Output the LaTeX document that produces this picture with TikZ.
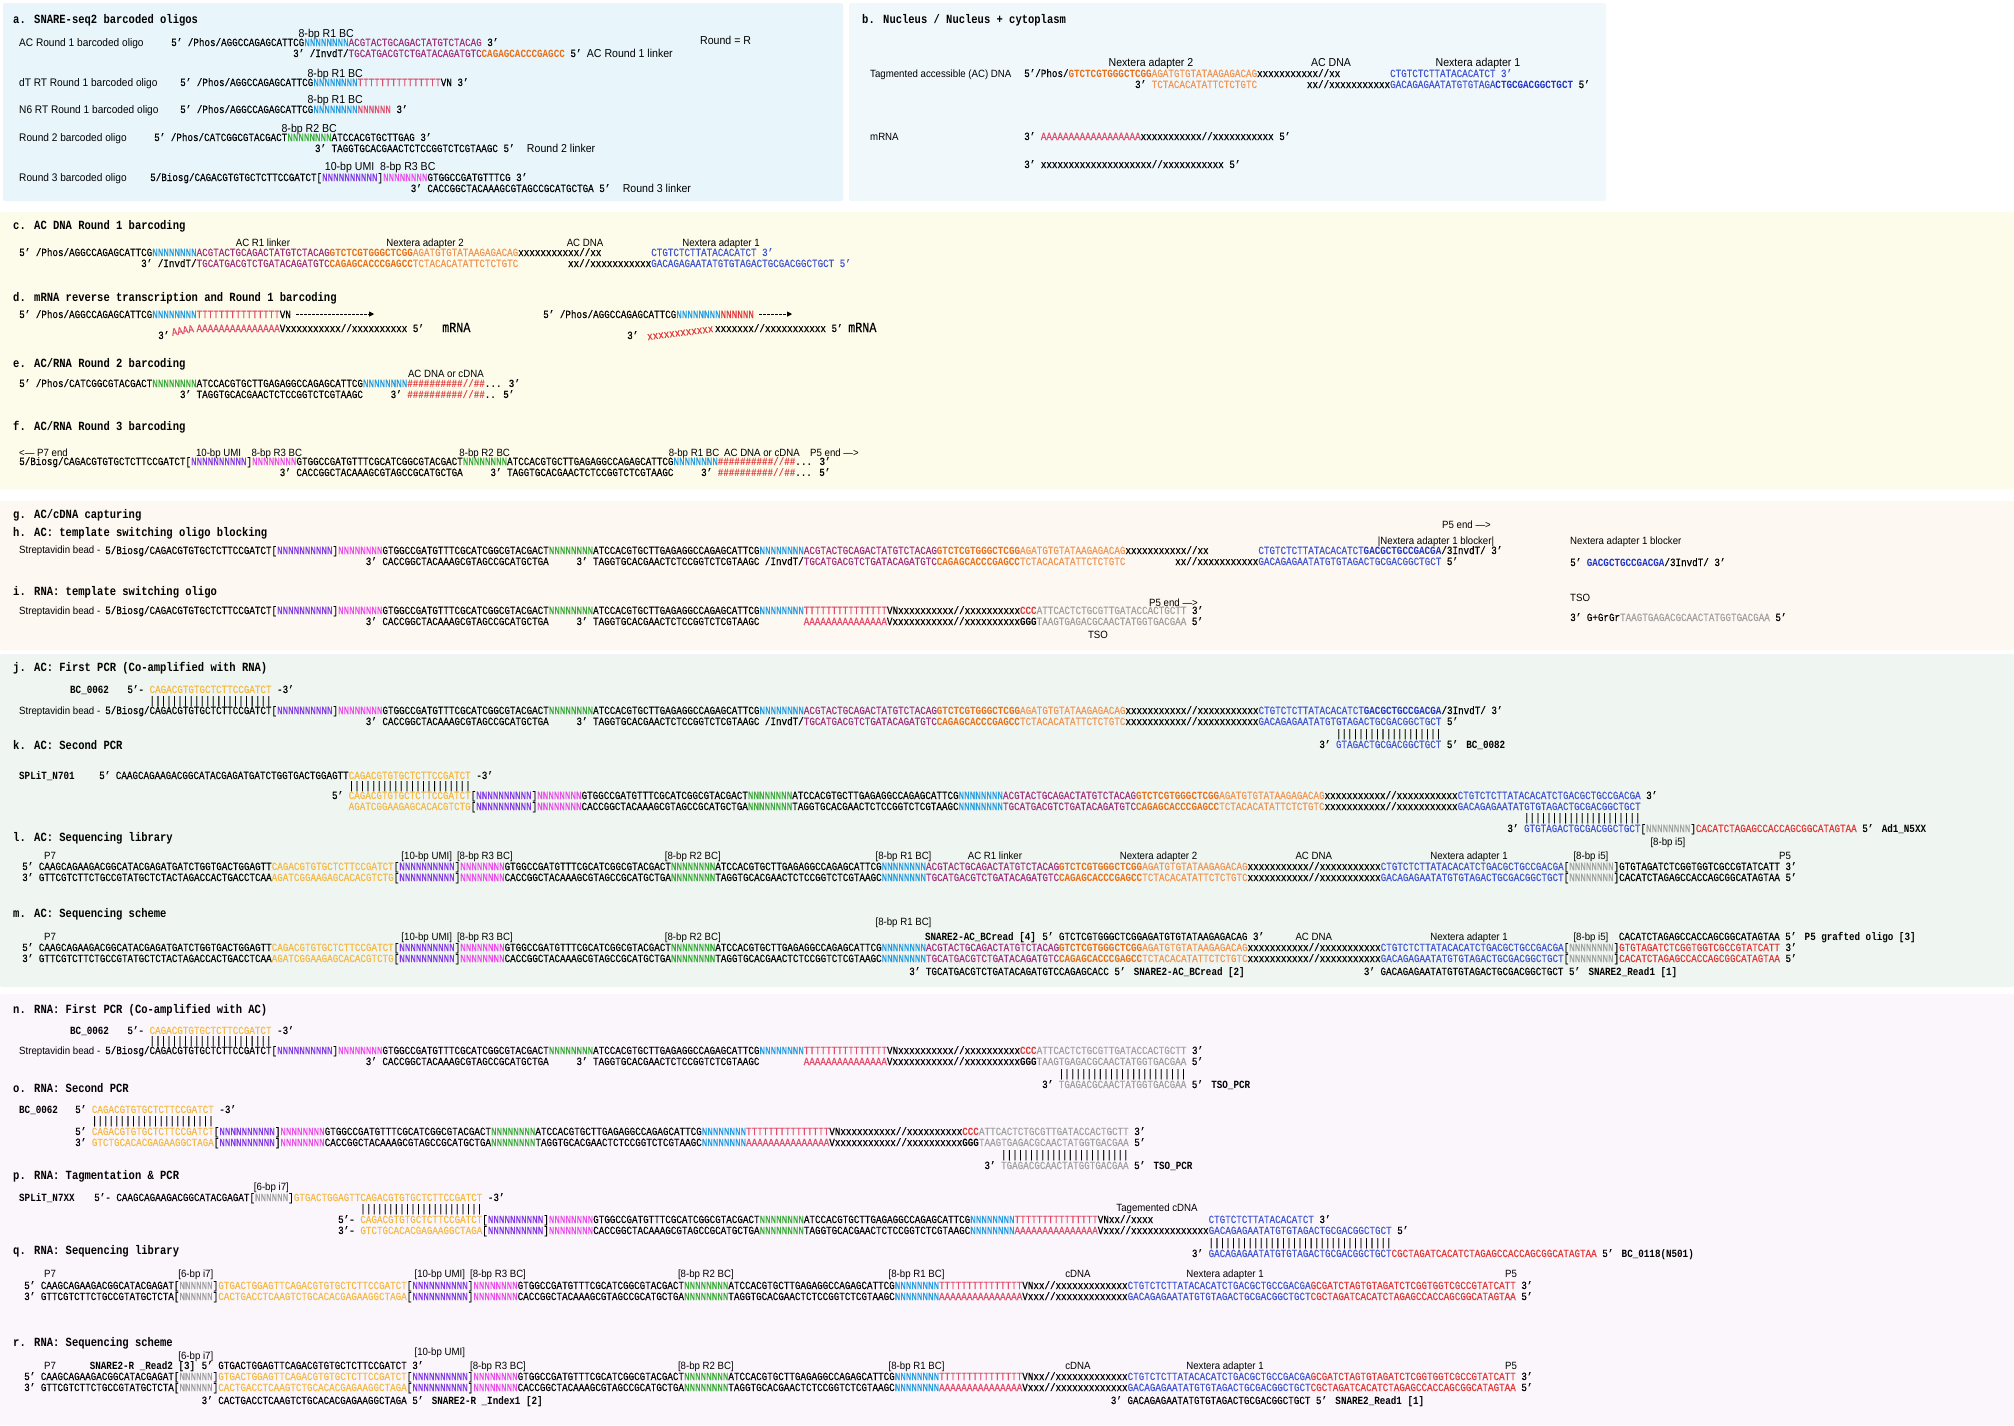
\documentclass[tikz,border=0pt]{standalone}
\usepackage{fontspec}
\setmainfont{Liberation Sans}
\newfontfamily\seqfont[FakeStretch=0.84, UprightFeatures={FakeBold=0.25}]{Liberation Mono}
\newfontfamily\lblfont[FakeStretch=0.92]{Liberation Sans}
\usetikzlibrary{arrows.meta, positioning}

\definecolor{panelA}{RGB}{232,246,251}
\definecolor{panelB}{RGB}{241,248,251}
\definecolor{panelC}{RGB}{253,251,234}
\definecolor{panelG}{RGB}{253,248,241}
\definecolor{panelJ}{RGB}{239,245,240}
\definecolor{panelN}{RGB}{251,246,251}
\definecolor{roneC}{RGB}{35,155,225}
\definecolor{rtwoC}{RGB}{55,170,55}
\definecolor{rthreeC}{RGB}{235,75,235}
\definecolor{umiC}{RGB}{130,55,230}
\definecolor{lnkC}{RGB}{160,50,125}
\definecolor{nxtwoC}{RGB}{240,150,85}
\definecolor{nxtwoD}{RGB}{232,110,25}
\definecolor{nxoneC}{RGB}{65,85,210}
\definecolor{nxoneD}{RGB}{30,50,200}
\definecolor{polyC}{RGB}{225,75,105}
\definecolor{goldC}{RGB}{245,185,70}
\definecolor{gryC}{RGB}{160,160,160}
\definecolor{redC}{RGB}{225,55,55}

% colour pieces of the oligos
\newcommand{\bcone}[1]{\textcolor{roneC}{#1}}
\newcommand{\bctwo}[1]{\textcolor{rtwoC}{#1}}
\newcommand{\bcthree}[1]{\textcolor{rthreeC}{#1}}
\newcommand{\umi}[1]{\textcolor{umiC}{#1}}
\newcommand{\lnk}[1]{\textcolor{lnkC}{#1}}
\newcommand{\nxtwo}[1]{\textcolor{nxtwoC}{#1}}
\newcommand{\nxtwoB}[1]{\textcolor{nxtwoD}{\bfseries #1}}
\newcommand{\nxone}[1]{\textcolor{nxoneC}{#1}}
\newcommand{\nxoneB}[1]{\textcolor{nxoneD}{\bfseries #1}}
\newcommand{\poly}[1]{\textcolor{polyC}{#1}}
\newcommand{\gold}[1]{\textcolor{goldC}{#1}}
\newcommand{\gry}[1]{\textcolor{gryC}{#1}}
\newcommand{\rd}[1]{\textcolor{redC}{#1}}
\newcommand{\rdB}[1]{\textcolor{redC}{\bfseries #1}}
\newcommand{\blk}[1]{#1}

% repeated stretches
\newcommand{\hsh}{\rdB{\#\#\#\#\#\#\#\#\#\#//\#\#}}
\newcommand{\xxgap}{xxxxxxxxxxx//xxxxxxxxxxx}
\newcommand{\coreTop}{[\umi{NNNNNNNNNN}]\bcthree{NNNNNNNN}GTGGCCGATGTTTCGCATCGGCGTACGACT\bctwo{NNNNNNNN}ATCCACGTGCTTGAGAGGCCAGAGCATTCG\bcone{NNNNNNNN}}
\newcommand{\coreBot}{[\umi{NNNNNNNNNN}]\bcthree{NNNNNNNN}CACCGGCTACAAAGCGTAGCCGCATGCTGA\bctwo{NNNNNNNN}TAGGTGCACGAACTCTCCGGTCTCGTAAGC\bcone{NNNNNNNN}}
\newcommand{\acTop}{\lnk{ACGTACTGCAGACTATGTCTACAG}\nxtwoB{GTCTCGTGGGCTCGG}\nxtwo{AGATGTGTATAAGAGACAG}}
\newcommand{\acBot}{\lnk{TGCATGACGTCTGATACAGATGTC}\nxtwoB{CAGAGCACCCGAGCC}\nxtwo{TCTACACATATTCTCTGTC}}
\newcommand{\nxOneTop}{\nxone{CTGTCTCTTATACACATCTGACGCTGCCGACGA}}
\newcommand{\nxOneBot}{\nxone{GACAGAGAATATGTGTAGACTGCGACGGCTGCT}}
\newcommand{\beadStrand}{5/Biosg/CAGACGTGTGCTCTTCCGATCT\coreTop}
\newcommand{\acLibTop}[1]{5’ CAAGCAGAAGACGGCATACGAGATGATCTGGTGACTGGAGTT\gold{CAGACGTGTGCTCTTCCGATCT}\coreTop\acTop\xxgap\nxOneTop{}[\gry{NNNNNNNN}]#1{GTGTAGATCTCGGTGGTCGCCGTATCATT} 3’}
\newcommand{\acLibBot}[1]{3’ GTTCGTCTTCTGCCGTATGCTCTACTAGACCACTGACCTCAA\gold{AGATCGGAAGAGCACACGTCTG}\coreBot\acBot\xxgap\nxOneBot{}[\gry{NNNNNNNN}]#1{CACATCTAGAGCCACCAGCGGCATAGTAA} 5’}
\newcommand{\rnaLibTop}{5’ CAAGCAGAAGACGGCATACGAGAT[\gry{NNNNNN}]\gold{GTGACTGGAGTTCAGACGTGTGCTCTTCCGATCT}\coreTop\poly{TTTTTTTTTTTTTTT}VNxx//xxxxxxxxxxxxx\nxOneTop\rd{GCGATCTAGTGTAGATCTCGGTGGTCGCCGTATCATT} 3’}
\newcommand{\rnaLibBot}{3’ GTTCGTCTTCTGCCGTATGCTCTA[\gry{NNNNNN}]\gold{CACTGACCTCAAGTCTGCACACGAGAAGGCTAGA}\coreBot\poly{AAAAAAAAAAAAAAA}Vxxx//xxxxxxxxxxxxx\nxOneBot\rd{CGCTAGATCACATCTAGAGCCACCAGCGGCATAGTAA} 5’}
\def\cw{5.544}

\begin{document}
\begin{tikzpicture}[x=1pt, y=-1pt,
    sq/.style={font=\seqfont\fontsize{11}{12}\selectfont, inner sep=0pt, anchor=base west},
    ttl/.style={font=\seqfont\bfseries\fontsize{12.5}{14}\selectfont, inner sep=0pt, anchor=base west},
    nm/.style={font=\seqfont\bfseries\fontsize{11}{12}\selectfont, inner sep=0pt, anchor=base west},
    lbl/.style={font=\lblfont\fontsize{10.5}{12}\selectfont, inner sep=0pt, anchor=base},
    lblw/.style={lbl, anchor=base west},
    lbla/.style={lbl, font=\lblfont\fontsize{11.5}{13}\selectfont},
    lblaw/.style={lbla, anchor=base west},
    nmw/.style={lblw, font=\lblfont\fontsize{11}{13}\selectfont},
    mrna/.style={font=\seqfont\fontsize{14}{16}\selectfont, inner sep=0pt, anchor=base west},
    panel/.style={fill=#1, draw=none, rounded corners=2pt},
    rtarrow/.style={dash pattern=on 2.5pt off 1.5pt, line width=0.9pt, -{Triangle[length=5pt,width=5pt]}}
]
\useasboundingbox (0,0) rectangle (2014,1425);

% --- panels ---
\fill[panel=panelA] (3,3) rectangle (843,201);
\fill[panel=panelB] (849,3) rectangle (1606,201);
\fill[panel=panelC] (0,212) rectangle (2014,489);
\fill[panel=panelG] (0,501) rectangle (2014,650);
\fill[panel=panelJ] (0,654) rectangle (2014,987);
\fill[panel=panelN] (0,994) rectangle (2014,1425);

% --- a. barcoded oligos ---
\node[ttl] (aT) at (13,23) {a. SNARE-seq2 barcoded oligos};
\node[nmw] (aL1) at (19,46) {AC Round 1 barcoded oligo};
\node[lbla] (aB1) at ({171+28*\cw},37) {8-bp R1 BC};
\node[sq] (a1t) at (171,46) {5’ /Phos/AGGCCAGAGCATTCG\bcone{NNNNNNNN}\lnk{ACGTACTGCAGACTATGTCTACAG} 3’};
\node[sq] (a1b) at ({171+22*\cw},57) {3’ /InvdT/\lnk{TGCATGACGTCTGATACAGATGTC}\nxtwoB{CAGAGCACCCGAGCC} 5’};
\node[lblaw] (aK1) at ([xshift=5pt]a1b.base east) {AC Round 1 linker};
\node[lblaw] (aR) at (700,44) {Round = R};

\node[nmw] (aL2) at (19,86) {dT RT Round 1 barcoded oligo};
\node[lbla] (aB2) at ({180+28*\cw},77) {8-bp R1 BC};
\node[sq] (a2t) at (180,86) {5’ /Phos/AGGCCAGAGCATTCG\bcone{NNNNNNNN}\poly{TTTTTTTTTTTTTTT}VN 3’};

\node[nmw] (aL3) at (19,113) {N6 RT Round 1 barcoded oligo};
\node[lbla] (aB3) at ({180+28*\cw},103) {8-bp R1 BC};
\node[sq] (a3t) at (180,113) {5’ /Phos/AGGCCAGAGCATTCG\bcone{NNNNNNNN}\poly{NNNNNN} 3’};

\node[nmw] (aL4) at (19,141) {Round 2 barcoded oligo};
\node[lbla] (aB4) at ({154+28*\cw},132) {8-bp R2 BC};
\node[sq] (a4t) at (154,141) {5’ /Phos/CATCGGCGTACGACT\bctwo{NNNNNNNN}ATCCACGTGCTTGAG 3’};
\node[sq] (a4b) at ({154+29*\cw},152) {3’ TAGGTGCACGAACTCTCCGGTCTCGTAAGC 5’};
\node[lblaw] (aK4) at ([xshift=12pt]a4b.base east) {Round 2 linker};

\node[nmw] (aL5) at (19,181) {Round 3 barcoded oligo};
\node[lbla] (aU5) at ({150+36*\cw},170) {10-bp UMI};
\node[lbla] (aB5) at ({150+46.5*\cw},170) {8-bp R3 BC};
\node[sq] (a5t) at (150,181) {5/Biosg/CAGACGTGTGCTCTTCCGATCT[\umi{NNNNNNNNNN}]\bcthree{NNNNNNNN}GTGGCCGATGTTTCG 3’};
\node[sq] (a5b) at ({150+47*\cw},192) {3’ CACCGGCTACAAAGCGTAGCCGCATGCTGA 5’};
\node[lblaw] (aK5) at ([xshift=12pt]a5b.base east) {Round 3 linker};

% --- b. nucleus ---
\node[ttl] (bT) at (862,23) {b. Nucleus / Nucleus + cytoplasm};
\node[lbla] (bN2) at (1151,66) {Nextera adapter 2};
\node[lbla] (bAC) at (1331,66) {AC DNA};
\node[lbla] (bN1) at (1478,66) {Nextera adapter 1};
\node[lblw] (bL1) at (870,77) {Tagmented accessible (AC) DNA};
\node[sq] (b1t) at (1024,77) {5’/Phos/\nxtwoB{GTCTCGTGGGCTCGG}\nxtwo{AGATGTGTATAAGAGACAG}xxxxxxxxxxx//xx};
\node[sq] (b1t2) at ({1024+66*\cw},77) {\nxone{CTGTCTCTTATACACATCT 3’}};
\node[sq] (b1b) at ({1024+20*\cw},88) {3’ \nxtwo{TCTACACATATTCTCTGTC}};
\node[sq] (b1b2) at ({1024+51*\cw},88) {xx//xxxxxxxxxxx\nxone{GACAGAGAATATGTGTAGA}\nxoneB{CTGCGACGGCTGCT} 5’};
\node[lblw] (bL2) at (870,140) {mRNA};
\node[sq] (b2) at (1024,140) {3’ \poly{AAAAAAAAAAAAAAAAAA}xxxxxxxxxxx//xxxxxxxxxxx 5’};
\node[sq] (b3) at (1024,168) {3’ xxxxxxxxxxxxxxxxxxxx//xxxxxxxxxxx 5’};

% --- c. AC DNA round 1 ---
\node[ttl] (cT) at (13,229) {c. AC DNA Round 1 barcoding};
\node[lbl] (cL1) at ({19+44*\cw},246) {AC R1 linker};
\node[lbl] (cN2) at (425,246) {Nextera adapter 2};
\node[lbl] (cAC) at (585,246) {AC DNA};
\node[lbl] (cN1) at (721,246) {Nextera adapter 1};
\node[sq] (c1t) at (19,256) {5’ /Phos/AGGCCAGAGCATTCG\bcone{NNNNNNNN}\acTop{}xxxxxxxxxxx//xx};
\node[sq] (c1t2) at ({19+114*\cw},256) {\nxone{CTGTCTCTTATACACATCT 3’}};
\node[sq] (c1b) at ({19+22*\cw},267) {3’ /InvdT/\acBot};
\node[sq] (c1b2) at ({19+99*\cw},267) {xx//xxxxxxxxxxx\nxone{GACAGAGAATATGTGTAGACTGCGACGGCTGCT 5’}};

% --- d. RT + round 1 ---
\node[ttl] (dT) at (13,301) {d. mRNA reverse transcription and Round 1 barcoding};
\node[sq] (d1t) at (19,318) {5’ /Phos/AGGCCAGAGCATTCG\bcone{NNNNNNNN}\poly{TTTTTTTTTTTTTTT}VN};
\coordinate (d1e) at ([xshift=83pt]d1t.east);
\draw[rtarrow] ([xshift=5pt]d1t.east) -- (d1e);
\node[sq] (d1b) at ({19+32*\cw},332) {\poly{AAAAAAAAAAAAAAA}Vxxxxxxxxxx//xxxxxxxxxx 5’};
\node[sq, anchor=base east, rotate=10] (d1a) at ([xshift=-2pt]d1b.base west) {\poly{AAAA}};
\node[sq] (d1p) at (158,339) {3’};
\node[mrna] (d1m) at (442,332) {mRNA};

\node[sq] (d2t) at (543,318) {5’ /Phos/AGGCCAGAGCATTCG\bcone{NNNNNNNN}\rd{NNNNNN}};
\coordinate (d2e) at ([xshift=38pt]d2t.east);
\draw[rtarrow] ([xshift=5pt]d2t.east) -- (d2e);
\node[sq] (d2b) at ({543+31*\cw},332) {xxxxxxx//xxxxxxxxxxx 5’};
\node[sq, anchor=base east, rotate=7] (d2x) at ([xshift=-1pt]d2b.base west) {\rd{xxxxxxxxxxxx}};
\node[sq] (d2p) at (627,339) {3’};
\node[mrna] (d2m) at (848,332) {mRNA};

% --- e. round 2 ---
\node[ttl] (eT) at (13,367) {e. AC/RNA Round 2 barcoding};
\node[lbl] (eL) at ({19+77*\cw},377) {AC DNA or cDNA};
\node[sq] (e1t) at (19,387) {5’ /Phos/CATCGGCGTACGACT\bctwo{NNNNNNNN}ATCCACGTGCTTGAGAGGCCAGAGCATTCG\bcone{NNNNNNNN}\hsh\textbf{... 3’}};
\node[sq] (e1b) at ({19+29*\cw},398) {3’ TAGGTGCACGAACTCTCCGGTCTCGTAAGC};
\node[sq] (e1b2) at ({19+67*\cw},398) {3’ \hsh\textbf{.. 5’}};

% --- f. round 3 ---
\node[ttl] (fT) at (13,430) {f. AC/RNA Round 3 barcoding};
\node[lblw] (fP7) at (19,456) {<— P7 end};
\node[lbl] (fU) at ({19+36*\cw},456) {10-bp UMI};
\node[lbl] (fR3) at ({19+46.5*\cw},456) {8-bp R3 BC};
\node[lbl] (fR2) at ({19+84*\cw},456) {8-bp R2 BC};
\node[lbl] (fR1) at (694,456) {8-bp R1 BC};
\node[lbl] (fAC) at (762,456) {AC DNA or cDNA};
\node[lblw] (fP5) at (810,456) {P5 end —>};
\node[sq] (f1t) at (19,465) {\beadStrand\hsh\textbf{... 3’}};
\node[sq] (f1b) at ({19+47*\cw},476) {3’ CACCGGCTACAAAGCGTAGCCGCATGCTGA};
\node[sq] (f1b2) at ({19+85*\cw},476) {3’ TAGGTGCACGAACTCTCCGGTCTCGTAAGC};
\node[sq] (f1b3) at ({19+123*\cw},476) {3’ \hsh\textbf{... 5’}};

% --- g/h. capturing, AC blocking ---
\node[ttl] (gT) at (13,518) {g. AC/cDNA capturing};
\node[ttl] (hT) at (13,536) {h. AC: template switching oligo blocking};
\node[lblw] (hP5) at (1442,528) {P5 end —>};
\node[lbl] (hBk) at (1436,544) {|Nextera adapter 1 blocker|};
\node[lblw] (hBk2) at (1570,544) {Nextera adapter 1 blocker};
\node[lblw] (hS) at (19,553) {Streptavidin bead -};
\node[sq] (h1t) at (105,554) {\beadStrand\acTop{}xxxxxxxxxxx//xx};
\node[sq] (h1t2) at ({105+208*\cw},554) {\nxone{CTGTCTCTTATACACATCT}\nxoneB{GACGCTGCCGACGA}/3InvdT/ 3’};
\node[sq] (h1b) at ({105+47*\cw},565) {3’ CACCGGCTACAAAGCGTAGCCGCATGCTGA};
\node[sq] (h1b2) at ({105+85*\cw},565) {3’ TAGGTGCACGAACTCTCCGGTCTCGTAAGC /InvdT/\acBot};
\node[sq] (h1b3) at ({105+193*\cw},565) {xx//xxxxxxxxxxx\nxOneBot{} 5’};
\node[sq] (hBs) at (1570,566) {5’ \nxoneB{GACGCTGCCGACGA}/3InvdT/ 3’};

% --- i. RNA TSO ---
\node[ttl] (iT) at (13,595) {i. RNA: template switching oligo};
\node[lblw] (iP5) at (1149,606) {P5 end —>};
\node[lblw] (iTS2) at (1570,601) {TSO};
\node[lblw] (iS) at (19,614) {Streptavidin bead -};
\node[sq] (i1t) at (105,614) {\beadStrand\poly{TTTTTTTTTTTTTTT}VNxxxxxxxxxx//xxxxxxxxxx\rdB{CCC}\gry{ATTCACTCTGCGTTGATACCACTGCTT} 3’};
\node[sq] (i1b) at ({105+47*\cw},625) {3’ CACCGGCTACAAAGCGTAGCCGCATGCTGA};
\node[sq] (i1b2) at ({105+85*\cw},625) {3’ TAGGTGCACGAACTCTCCGGTCTCGTAAGC};
\node[sq] (i1b3) at ({105+126*\cw},625) {\poly{AAAAAAAAAAAAAAA}Vxxxxxxxxxxx//xxxxxxxxxx\textbf{GGG}\gry{TAAGTGAGACGCAACTATGGTGACGAA} 5’};
\node[sq] (iTSs) at (1570,621) {3’ G+GrGr\gry{TAAGTGAGACGCAACTATGGTGACGAA} 5’};
\node[lbl] (iTS) at (1098,638) {TSO};

% --- j. AC first PCR ---
\node[ttl] (jT) at (13,671) {j. AC: First PCR (Co-amplified with RNA)};
\node[nm] (jP) at (70,693) {BC\_0062};
\node[sq] (jPs) at ({105+4*\cw},693) {5’- \gold{CAGACGTGTGCTCTTCCGATCT} -3’};
\node[sq] (jPb) at ({105+8*\cw},704) {||||||||||||||||||||||};
\node[lblw] (jS) at (19,714) {Streptavidin bead -};
\node[sq] (j1t) at (105,714) {\beadStrand\acTop\xxgap\nxone{CTGTCTCTTATACACATCT}\nxoneB{GACGCTGCCGACGA}/3InvdT/ 3’};
\node[sq] (j1b) at ({105+47*\cw},725) {3’ CACCGGCTACAAAGCGTAGCCGCATGCTGA};
\node[sq] (j1b2) at ({105+85*\cw},725) {3’ TAGGTGCACGAACTCTCCGGTCTCGTAAGC /InvdT/\acBot\xxgap\nxOneBot{} 5’};
\node[sq] (jBb) at ({105+222*\cw},737) {|||||||||||||||||||};
\node[sq] (jB) at ({105+219*\cw},748) {3’ \nxone{GTAGACTGCGACGGCTGCT} 5’};
\node[nm] (jBn) at ([xshift=8pt]jB.base east) {BC\_0082};

% --- k. AC second PCR ---
\node[ttl] (kT) at (13,749) {k. AC: Second PCR};
\node[nm] (kP) at (19,779) {SPLiT\_N701};
\node[sq] (kPs) at (99,779) {5’ CAAGCAGAAGACGGCATACGAGATGATCTGGTGACTGGAGTT\gold{CAGACGTGTGCTCTTCCGATCT} -3’};
\node[sq] (kPb) at ({99+45*\cw},789) {||||||||||||||||||||||};
\node[sq] (k1t) at ({99+42*\cw},799) {5’ \gold{CAGACGTGTGCTCTTCCGATCT}\coreTop\acTop\xxgap\nxOneTop{} 3’};
\node[sq] (k1b) at ({99+45*\cw},810) {\gold{AGATCGGAAGAGCACACGTCTG}\coreBot\acBot\xxgap\nxOneBot};
\node[sq] (kAb) at ({99+257*\cw},821) {|||||||||||||||||||||};
\node[sq] (kA) at ({99+254*\cw},832) {3’ \nxone{GTGTAGACTGCGACGGCTGCT}[\gry{NNNNNNNN}]\rd{CACATCTAGAGCCACCAGCGGCATAGTAA} 5’};
\node[nm] (kAn) at ([xshift=8pt]kA.base east) {Ad1\_N5XX};
\node[lbl] (kI5) at ({99+283*\cw},845) {[8-bp i5]};

% --- l. AC library ---
\node[ttl] (lT) at (13,841) {l. AC: Sequencing library};
\node[lbl] (lP7) at (50,859) {P7};
\node[lbl] (lU) at ({22+73*\cw},859) {[10-bp UMI]};
\node[lbl] (lR3) at ({22+83.5*\cw},859) {[8-bp R3 BC]};
\node[lbl] (lR2) at ({22+121*\cw},859) {[8-bp R2 BC]};
\node[lbl] (lR1) at ({22+159*\cw},859) {[8-bp R1 BC]};
\node[lbl] (lLk) at ({22+175.5*\cw},859) {AC R1 linker};
\node[lbl] (lN2) at ({22+205*\cw},859) {Nextera adapter 2};
\node[lbl] (lAC) at ({22+233*\cw},859) {AC DNA};
\node[lbl] (lN1) at ({22+261*\cw},859) {Nextera adapter 1};
\node[lbl] (lI5) at ({22+283*\cw},859) {[8-bp i5]};
\node[lbl] (lP5) at (1785,859) {P5};
\node[sq] (l1t) at (22,870) {\acLibTop{\blk}};
\node[sq] (l1b) at (22,881) {\acLibBot{\blk}};

% --- m. AC scheme ---
\node[ttl] (mT) at (13,917) {m. AC: Sequencing scheme};
\node[lbl] (mR1) at ({22+159*\cw},925) {[8-bp R1 BC]};
\node[lbl] (mP7) at (50,940) {P7};
\node[lbl] (mU) at ({22+73*\cw},940) {[10-bp UMI]};
\node[lbl] (mR3) at ({22+83.5*\cw},940) {[8-bp R3 BC]};
\node[lbl] (mR2) at ({22+121*\cw},940) {[8-bp R2 BC]};
\node[sq] (mS4) at ({22+184*\cw},940) {5’ GTCTCGTGGGCTCGGAGATGTGTATAAGAGACAG 3’};
\node[nm, anchor=base east] (mN4) at ([xshift=-6pt]mS4.base west) {SNARE2-AC\_BCread [4]};
\node[lbl] (mAC) at ({22+233*\cw},940) {AC DNA};
\node[lbl] (mN1l) at ({22+261*\cw},940) {Nextera adapter 1};
\node[lbl] (mI5) at ({22+283*\cw},940) {[8-bp i5]};
\node[sq] (mS3) at ({22+288*\cw},940) {CACATCTAGAGCCACCAGCGGCATAGTAA 5’};
\node[nm] (mN3) at ([xshift=8pt]mS3.base east) {P5 grafted oligo [3]};
\node[sq] (m1t) at (22,951) {\acLibTop{\rd}};
\node[sq] (m1b) at (22,962) {\acLibBot{\rd}};
\node[sq] (mS2) at ({22+160*\cw},975) {3’ TGCATGACGTCTGATACAGATGTCCAGAGCACC 5’};
\node[nm] (mN2) at ([xshift=8pt]mS2.base east) {SNARE2-AC\_BCread [2]};
\node[sq] (mS1) at ({22+242*\cw},975) {3’ GACAGAGAATATGTGTAGACTGCGACGGCTGCT 5’};
\node[nm] (mN1) at ([xshift=8pt]mS1.base east) {SNARE2\_Read1 [1]};

% --- n. RNA first PCR ---
\node[ttl] (nT) at (13,1013) {n. RNA: First PCR (Co-amplified with AC)};
\node[nm] (nP) at (70,1034) {BC\_0062};
\node[sq] (nPs) at ({105+4*\cw},1034) {5’- \gold{CAGACGTGTGCTCTTCCGATCT} -3’};
\node[sq] (nPb) at ({105+8*\cw},1044) {||||||||||||||||||||||};
\node[lblw] (nS) at (19,1054) {Streptavidin bead -};
\node[sq] (n1t) at (105,1054) {\beadStrand\poly{TTTTTTTTTTTTTTT}VNxxxxxxxxxx//xxxxxxxxxx\rdB{CCC}\gry{ATTCACTCTGCGTTGATACCACTGCTT} 3’};
\node[sq] (n1b) at ({105+47*\cw},1065) {3’ CACCGGCTACAAAGCGTAGCCGCATGCTGA};
\node[sq] (n1b2) at ({105+85*\cw},1065) {3’ TAGGTGCACGAACTCTCCGGTCTCGTAAGC};
\node[sq] (n1b3) at ({105+126*\cw},1065) {\poly{AAAAAAAAAAAAAAA}Vxxxxxxxxxxx//xxxxxxxxxx\textbf{GGG}\gry{TAAGTGAGACGCAACTATGGTGACGAA} 5’};
\node[sq] (nTb) at ({105+172*\cw},1077) {|||||||||||||||||||||||};
\node[sq] (nTs) at ({105+169*\cw},1088) {3’ \gry{TGAGACGCAACTATGGTGACGAA} 5’};
\node[nm] (nTn) at ([xshift=8pt]nTs.base east) {TSO\_PCR};

% --- o. RNA second PCR ---
\node[ttl] (oT) at (13,1092) {o. RNA: Second PCR};
\node[nm] (oP) at (19,1113) {BC\_0062};
\node[sq] (oPs) at (75,1113) {5’ \gold{CAGACGTGTGCTCTTCCGATCT} -3’};
\node[sq] (oPb) at ({75+3*\cw},1124) {||||||||||||||||||||||};
\node[sq] (o1t) at (75,1135) {5’ \gold{CAGACGTGTGCTCTTCCGATCT}\coreTop\poly{TTTTTTTTTTTTTTT}VNxxxxxxxxxx//xxxxxxxxxx\rdB{CCC}\gry{ATTCACTCTGCGTTGATACCACTGCTT} 3’};
\node[sq] (o1b) at (75,1146) {3’ \gold{GTCTGCACACGAGAAGGCTAGA}\coreBot\poly{AAAAAAAAAAAAAAA}Vxxxxxxxxxxx//xxxxxxxxxx\textbf{GGG}\gry{TAAGTGAGACGCAACTATGGTGACGAA} 5’};
\node[sq] (oTb) at ({75+167*\cw},1158) {|||||||||||||||||||||||};
\node[sq] (oTs) at ({75+164*\cw},1169) {3’ \gry{TGAGACGCAACTATGGTGACGAA} 5’};
\node[nm] (oTn) at ([xshift=8pt]oTs.base east) {TSO\_PCR};

% --- p. RNA tagmentation ---
\node[ttl] (pT) at (13,1179) {p. RNA: Tagmentation \& PCR};
\node[lbl] (pI7) at ({94+32*\cw},1190) {[6-bp i7]};
\node[nm] (pP) at (19,1201) {SPLiT\_N7XX};
\node[sq] (pPs) at (94,1201) {5’- CAAGCAGAAGACGGCATACGAGAT[\gry{NNNNNN}]\gold{GTGACTGGAGTTCAGACGTGTGCTCTTCCGATCT} -3’};
\node[sq] (pPb) at ({94+48*\cw},1212) {||||||||||||||||||||||};
\node[lbl] (pTg) at (1157,1211) {Tagemented cDNA};
\node[sq] (p1t) at ({94+44*\cw},1223) {5’- \gold{CAGACGTGTGCTCTTCCGATCT}\coreTop\poly{TTTTTTTTTTTTTTT}VNxx//xxxx};
\node[sq] (p1t2) at ({94+201*\cw},1223) {\nxone{CTGTCTCTTATACACATCT} 3’};
\node[sq] (p1b) at ({94+44*\cw},1234) {3’- \gold{GTCTGCACACGAGAAGGCTAGA}\coreBot\poly{AAAAAAAAAAAAAAA}Vxxx//xxxxxxxxxxxxxx\nxOneBot{} 5’};
\node[sq] (pBb) at ({94+201*\cw},1246) {|||||||||||||||||||||||||||||||||};
\node[sq] (pB) at ({94+198*\cw},1257) {3’ \nxOneBot\rd{CGCTAGATCACATCTAGAGCCACCAGCGGCATAGTAA} 5’};
\node[nm] (pBn) at ([xshift=8pt]pB.base east) {BC\_0118(N501)};

% --- q. RNA library ---
\node[ttl] (qT) at (13,1254) {q. RNA: Sequencing library};
\node[lbl] (qP7) at (50,1277) {P7};
\node[lbl] (qI7) at ({24+31*\cw},1277) {[6-bp i7]};
\node[lbl] (qU) at ({24+75*\cw},1277) {[10-bp UMI]};
\node[lbl] (qR3) at ({24+85.5*\cw},1277) {[8-bp R3 BC]};
\node[lbl] (qR2) at ({24+123*\cw},1277) {[8-bp R2 BC]};
\node[lbl] (qR1) at ({24+161*\cw},1277) {[8-bp R1 BC]};
\node[lbl] (qC) at (1078,1277) {cDNA};
\node[lbl] (qN1) at (1225,1277) {Nextera adapter 1};
\node[lbl] (qP5) at (1511,1277) {P5};
\node[sq] (q1t) at (24,1289) {\rnaLibTop};
\node[sq] (q1b) at (24,1300) {\rnaLibBot};

% --- r. RNA scheme ---
\node[ttl] (rT) at (13,1346) {r. RNA: Sequencing scheme};
\node[lbl] (rU) at ({24+75*\cw},1355) {[10-bp UMI]};
\node[lbl] (rI7) at ({24+31*\cw},1359) {[6-bp i7]};
\node[lbl] (rP7) at (50,1369) {P7};
\node[sq] (rS3) at ({24+32*\cw},1369) {5’ GTGACTGGAGTTCAGACGTGTGCTCTTCCGATCT 3’};
\node[nm, anchor=base east] (rN3) at ([xshift=-6pt]rS3.base west) {SNARE2-R \_Read2 [3]};
\node[lbl] (rR3) at ({24+85.5*\cw},1369) {[8-bp R3 BC]};
\node[lbl] (rR2) at ({24+123*\cw},1369) {[8-bp R2 BC]};
\node[lbl] (rR1) at ({24+161*\cw},1369) {[8-bp R1 BC]};
\node[lbl] (rC) at (1078,1369) {cDNA};
\node[lbl] (rN1l) at (1225,1369) {Nextera adapter 1};
\node[lbl] (rP5) at (1511,1369) {P5};
\node[sq] (r1t) at (24,1380) {\rnaLibTop};
\node[sq] (r1b) at (24,1391) {\rnaLibBot};
\node[sq] (rS2) at ({24+32*\cw},1404) {3’ CACTGACCTCAAGTCTGCACACGAGAAGGCTAGA 5’};
\node[nm] (rN2) at ([xshift=8pt]rS2.base east) {SNARE2-R \_Index1 [2]};
\node[sq] (rS1) at ({24+196*\cw},1404) {3’ GACAGAGAATATGTGTAGACTGCGACGGCTGCT 5’};
\node[nm] (rN1) at ([xshift=8pt]rS1.base east) {SNARE2\_Read1 [1]};

\end{tikzpicture}
\end{document}
